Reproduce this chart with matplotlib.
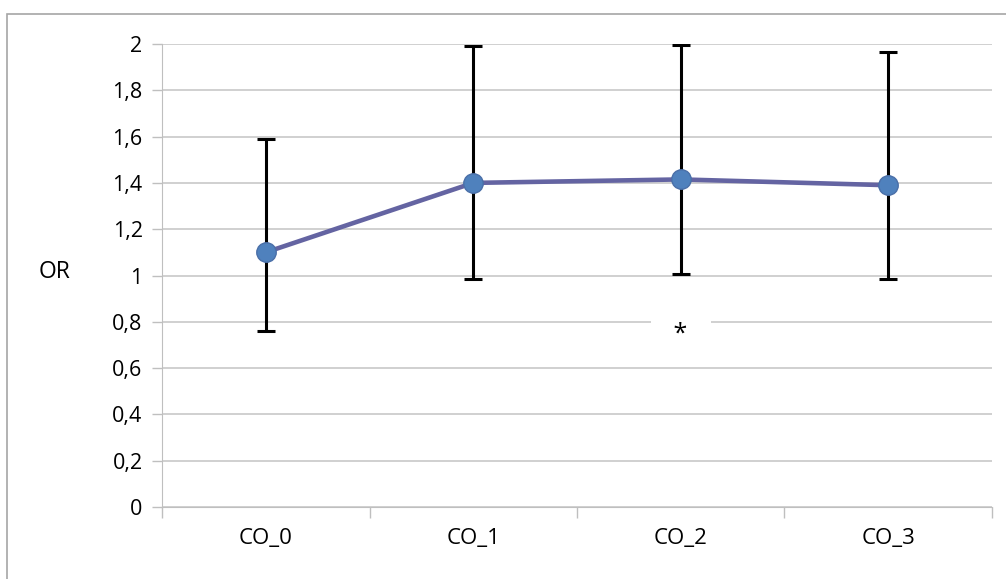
import numpy as np
import matplotlib.pyplot as plt
from matplotlib.patches import Rectangle

categories = ["CO_0", "CO_1", "CO_2", "CO_3"]
or_values = [1.10, 1.40, 1.415, 1.39]
ci_upper = [1.59, 1.99, 1.995, 1.965]
ci_lower = [0.76, 0.985, 1.005, 0.985]
y_ticks = [0, 0.2, 0.4, 0.6, 0.8, 1.0, 1.2, 1.4, 1.6, 1.8, 2.0]
y_tick_labels = ["0", "0,2", "0,4", "0,6", "0,8", "1", "1,2", "1,4", "1,6", "1,8", "2"]

plt.rcParams['font.family'] = ['Open Sans', 'DejaVu Sans']

fig = plt.figure(figsize=(10.06, 5.79), dpi=100)
ax = fig.add_axes([162/1006, 1 - 507/579, 830/1006, 463/579])

x = np.arange(len(categories))
vals = np.array(or_values)
err = [vals - np.array(ci_lower), np.array(ci_upper) - vals]

ax.errorbar(x, vals, yerr=err, fmt="none", ecolor="black", elinewidth=2.2,
            capsize=6.5, capthick=2.2, zorder=3)
ax.plot(x, vals, color="#6464a2", linewidth=3.3, zorder=4)
ax.plot(x, vals, "o", markersize=14, markerfacecolor="#4f81bd",
        markeredgecolor="#4a6fa8", markeredgewidth=1, zorder=5)

ax.set_xlim(-0.5, 3.5)
ax.set_ylim(0, 2)
ax.set_yticks(y_ticks)
ax.set_yticklabels(y_tick_labels)
ax.set_xticks(x)
ax.set_xticklabels(categories)
ax.set_xticks(np.arange(-0.5, 4, 1), minor=True)
ax.tick_params(axis="x", which="major", length=0, pad=15, labelsize=16)
ax.tick_params(axis="x", which="minor", length=8, color="#bfbfbf", width=1)
ax.tick_params(axis="y", length=7, color="#bfbfbf", width=1, pad=7, labelsize=15.5)

ax.grid(axis="y", color="#c8c8c8", linewidth=1.2, zorder=0)
ax.set_axisbelow(True)
for side in ["top", "right"]:
    ax.spines[side].set_visible(False)
ax.spines["left"].set_color("#bfbfbf")
ax.spines["bottom"].set_color("#bfbfbf")

# asterisk with a white box that hides the 0,8 gridline around it
ax.text(2, 0.745, "   *   ", ha="center", va="center", fontsize=18,
        bbox=dict(facecolor="white", edgecolor="none", boxstyle="square,pad=0.15"),
        zorder=2)

fig.text(55/1006, 1 - 272/579, "OR", ha="center", va="center", fontsize=16.5)

fig.patches.append(Rectangle((7/1006, -0.1), 1.2, 1 - 14/579 + 0.1,
                             transform=fig.transFigure, fill=False,
                             edgecolor="#a6a6a6", linewidth=1.2))

fig.savefig("out.png", dpi=100)
